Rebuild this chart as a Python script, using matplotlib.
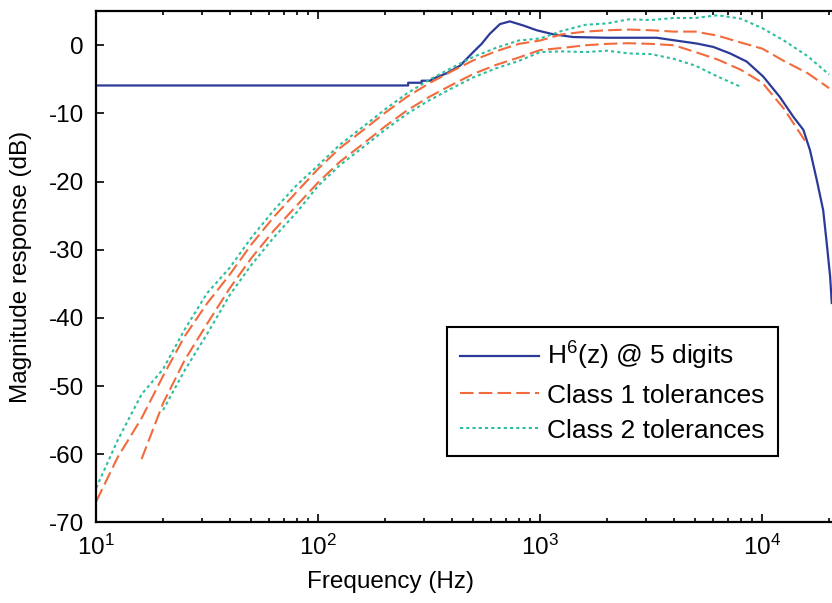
import matplotlib
matplotlib.use("Agg")
import matplotlib.pyplot as plt

plt.rcParams["font.family"] = ["Liberation Sans", "DejaVu Sans"]
plt.rcParams["mathtext.default"] = "regular"
plt.rcParams["axes.unicode_minus"] = False

# third-octave frequencies used by the tolerance curves
freq = [10, 12.5, 16, 20, 25, 31.5, 40, 50, 63, 80, 100, 125, 160, 200, 250,
        315, 400, 500, 630, 800, 1000, 1250, 1600, 2000, 2500, 3150, 4000,
        5000, 6300, 8000, 10000, 12500, 16000, 20000]

class1_upper = [-66.9, -60.4, -54.7, -48.5, -42.7, -37.9, -33.6, -29.2, -25.2,
                -21.5, -18.1, -15.1, -12.4, -9.9, -7.6, -5.6, -3.8, -2.2, -0.9,
                0.2, 0.7, 1.6, 2.0, 2.2, 2.3, 2.2, 2.0, 2.0, 1.4, 0.4, -0.5,
                -2.3, -4.1, -6.3]
class1_lower = [-60.7, -52.5, -46.2, -40.9, -35.6, -31.2, -27.2, -23.5, -20.1,
                -17.1, -14.4, -11.9, -9.6, -7.6, -5.8, -4.2, -2.9, -1.8, -0.7,
                -0.4, 0.0, 0.2, 0.3, 0.2, 0.0, -1.0, -2.1, -3.6, -5.5, -9.3,
                -14.6]  # from 16 Hz to 16 kHz
class2_upper = [-64.9, -57.9, -51.2, -47.5, -41.7, -36.4, -32.6, -28.2, -24.2,
                -20.5, -17.6, -14.6, -11.9, -9.4, -7.1, -5.1, -3.3, -1.7, -0.4,
                0.7, 1.0, 2.1, 3.0, 3.2, 3.8, 3.7, 4.0, 4.0, 4.4, 3.9, 2.5,
                0.7, -1.6, -4.3]
class2_lower = [-53.5, -47.7, -42.4, -36.6, -32.2, -28.2, -24.5, -20.6, -17.6,
                -14.9, -12.4, -10.1, -8.1, -6.3, -4.7, -3.4, -2.3, -1.0, -0.9,
                -1.0, -0.8, -1.2, -1.3, -2.0, -3.0, -4.6, -6.1]  # 20 Hz to 8 kHz

# quantised filter response H^6(z)
h6_freq = [10, 254, 254, 292, 292, 324, 324, 379, 435, 499, 544, 593, 658,
           729, 838, 963, 1145, 1410, 2000, 3340, 4260, 5070, 6020, 7160,
           8510, 10100, 12000, 13800, 15300, 16400, 17600, 18800, 19500,
           20200, 20550]
h6_db = [-5.9, -5.9, -5.5, -5.5, -5.2, -5.2, -5.0, -4.1, -3.0, -1.0, 0.2, 1.7,
         3.1, 3.5, 2.9, 2.2, 1.6, 1.2, 1.1, 1.1, 0.6, 0.25, -0.25, -1.2, -2.4,
         -4.6, -7.6, -10.5, -12.4, -15.4, -19.8, -24.2, -29.0, -33.9, -37.8]

BLUE = "#2b3a98"
ORANGE = "#f26b3c"
GREEN = "#2cbf9f"

fig = plt.figure(figsize=(8.32, 6.03), dpi=100)
ax = fig.add_axes([0.1157, 0.1335, 0.8843, 0.848])

ax.semilogx(h6_freq, h6_db, color=BLUE, lw=1.6, label="H$^{6}$(z) @ 5 digits")
ax.semilogx(freq, class1_upper, color=ORANGE, lw=1.5, dashes=(6.5, 2.5),
            label="Class 1 tolerances")
ax.semilogx(freq[2:2 + len(class1_lower)], class1_lower, color=ORANGE, lw=1.5,
            dashes=(6.5, 2.5))
ax.semilogx(freq, class2_upper, color=GREEN, lw=1.5, dashes=(1.5, 1.5),
            label="Class 2 tolerances")
ax.semilogx(freq[3:3 + len(class2_lower)], class2_lower, color=GREEN, lw=1.5,
            dashes=(1.5, 1.5))

ax.set_xlim(10, 20600)
ax.set_ylim(-70, 5)
ax.set_yticks(range(-70, 1, 10))

for s in ["left", "bottom", "top"]:
    ax.spines[s].set_linewidth(1.6)
ax.spines["right"].set_visible(False)
ax.tick_params(which="both", direction="in", top=True, right=False,
               labelsize=17.5, width=1.2)
ax.tick_params(which="major", length=6, pad=9)
ax.tick_params(which="minor", length=3)

ax.set_xlabel("Frequency (Hz)", fontsize=17.5)
ax.set_ylabel("Magnitude response (dB)", fontsize=17.5)
ax.xaxis.set_label_coords(0.4, -0.095)
ax.yaxis.set_label_coords(-0.088, 0.5)

leg = ax.legend(loc="upper left", bbox_to_anchor=(0.4767, 0.3822),
                borderaxespad=0, fontsize=19, handlelength=3.0,
                handletextpad=0.3, labelspacing=0.42, borderpad=0.5,
                fancybox=False, framealpha=1, edgecolor="black")
leg.get_frame().set_linewidth(1.5)

fig.savefig("out.png", dpi=100)
